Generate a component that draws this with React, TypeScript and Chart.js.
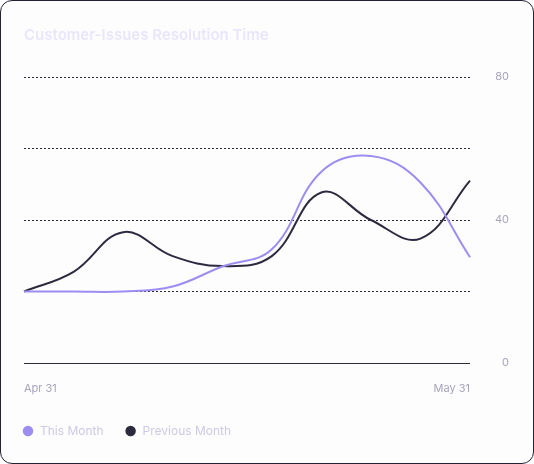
import React, { useEffect, useRef } from "react";
import { Chart, registerables } from "chart.js";

Chart.register(...registerables);

const categories = ["Apr 31", "", "", "", "", "", "", "", "", "May 31"];
const thisMonth = [20, 20, 20, 21.4, 27, 31.8, 53.5, 57.9, 50.5, 29.6];
const previousMonth = [20, 25.5, 36.6, 29.9, 27.1, 29.9, 47.7, 40, 34.8, 51];
const yTickLabels = [0, 40, 80];

const FONT = 'Inter, "Noto Sans", sans-serif';

export default function App() {
  const ref = useRef<HTMLCanvasElement>(null);

  useEffect(() => {
    if (!ref.current) return;
    const chart = new Chart(ref.current, {
      type: "line",
      data: {
        labels: categories,
        datasets: [
          {
            label: "This Month",
            data: thisMonth,
            yAxisID: "y",
            xAxisID: "x",
            borderColor: "#9d8df1",
            backgroundColor: "#9d8df1",
            borderWidth: 2,
            tension: 0.4,
            pointRadius: 0,
            fill: false,
          },
          {
            label: "Previous Month",
            data: previousMonth,
            yAxisID: "y",
            xAxisID: "x",
            borderColor: "#2c2a3f",
            backgroundColor: "#2c2a3f",
            borderWidth: 2,
            tension: 0.4,
            pointRadius: 0,
            fill: false,
          },
        ],
      },
      options: {
        responsive: false,
        animation: false,
        devicePixelRatio: 1,
        layout: { padding: { left: 0, right: 24, top: 76, bottom: 16 } },
        plugins: {
          tooltip: { enabled: false },
          title: { display: false },
          legend: {
            position: "bottom",
            align: "start",
            labels: {
              usePointStyle: true,
              pointStyle: "circle",
              boxHeight: 6,
              boxWidth: 12,
              padding: 21,
              color: "#cdc9e6",
              font: { family: FONT, size: 12 },
            },
          },
        },
        scales: {
          x: {
            grid: { display: false, drawTicks: false },
            border: { display: false },
            ticks: {
              autoSkip: false,
              maxRotation: 0,
              align: "inner",
              padding: 19,
              color: "#a8a4be",
              font: { family: FONT, size: 11 },
              callback: (_v: any, i: number) => categories[i],
            },
            afterFit: (s: any) => {
              s.height = 41;
            },
          },
          y: {
            position: "right",
            min: 0,
            max: 80,
            grid: {
              drawTicks: false,
              color: "#2c2a3f",
              lineWidth: 1,
            },
            border: {
              display: false,
              dash: (ctx: any) => (ctx.tick && ctx.tick.value === 0 ? [] : [2, 2]),
            },
            ticks: {
              stepSize: 20,
              padding: 25,
              crossAlign: "far",
              color: "#a8a4be",
              font: { family: FONT, size: 11 },
              callback: (v: any) => (yTickLabels.includes(Number(v)) ? String(v) : ""),
            },
            afterFit: (s: any) => {
              s.width = 39;
            },
          },
          yLeft: {
            position: "left",
            display: true,
            min: 0,
            max: 80,
            grid: { display: false, drawTicks: false },
            border: { display: false },
            ticks: { display: false },
            afterFit: (s: any) => {
              s.width = 23;
            },
          },
        },
      },
    });
    return () => chart.destroy();
  }, []);

  return (
    <div
      style={{
        position: "fixed",
        left: 0,
        top: 0,
        width: 534,
        height: 464,
        boxSizing: "border-box",
        border: "1px solid #232135",
        borderRadius: 12,
        background: "#fdfdfe",
        overflow: "hidden",
      }}
    >
      <canvas ref={ref} width={532} height={462} style={{ display: "block" }} />
      <div
        style={{
          position: "absolute",
          left: 23,
          top: 24.5,
          fontFamily: FONT,
          fontSize: 15,
          fontWeight: 600,
          lineHeight: "18px",
          color: "#e9e6fc",
          whiteSpace: "nowrap",
        }}
      >
        Customer-Issues Resolution Time
      </div>
    </div>
  );
}
